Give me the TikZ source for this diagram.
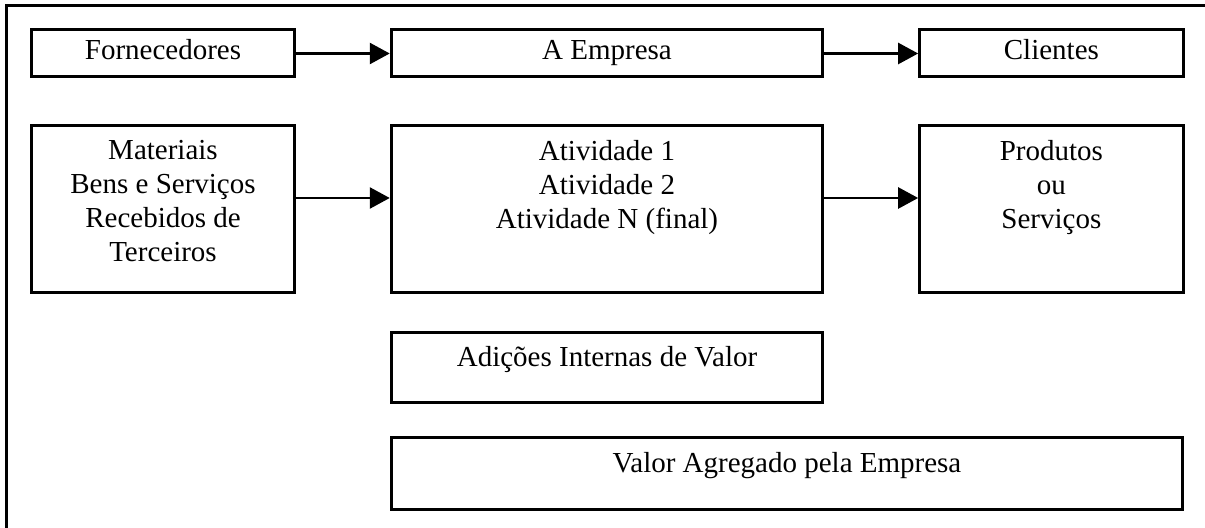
\documentclass[tikz,border=0pt]{standalone}
\usepackage{fontspec}
\setmainfont{Liberation Serif}
\usetikzlibrary{arrows.meta,positioning}

\begin{document}
\begin{tikzpicture}[x=0.5pt,y=-0.5pt,font=\fontsize{14.5}{17}\selectfont,
  blk/.style={draw,rectangle,line width=1.5pt,inner sep=0pt},
  lbl/.style={inner sep=0pt,align=center},
  arr/.style={line width=1.3pt,-{Triangle[length=10pt,width=10.5pt]}}]
\useasboundingbox (0,0) rectangle (1205,528);
% frame, cut at the right and at the bottom
\draw[line width=1.5pt] (1215,5.5) -- (6.5,5.5) -- (6.5,540);
% top row
  \foreach \nm/\xx/\bw/\txt in {forn/163/131.75/Fornecedores,emp/607/215.75/A Empresa,cli/1051.4/131.75/Clientes}
  {  \node [blk,minimum width=\bw pt,minimum height=23.5pt,text height=0.75em,text depth=0.1em] (\nm) at (\xx,53.5) {\txt};}
% second row
  \foreach \nm/\xx/\bw in {mat/163/131.75,ativ/607/215.75,prod/1051.4/131.75}
  {  \node [blk,minimum width=\bw pt,minimum height=83.35pt] (\nm) at (\xx,209.2) {};}
\node [lbl,below=8pt of mat.north] (matT) {Materiais\\Bens e Serviços\\Recebidos de\\Terceiros};
\node [lbl,below=8pt of ativ.north] (ativT) {Atividade 1\\Atividade 2\\Atividade N (final)};
\node [lbl,below=8pt of prod.north] (prodT) {Produtos\\ou\\Serviços};
% value boxes
\node [blk,minimum width=215.75pt,minimum height=35pt] (adic) at (607,367.2) {};
\node [lbl,below=7.5pt of adic.north] (adicT) {Adições Internas de Valor};
\node [blk,minimum width=395.5pt,minimum height=36.15pt] (vag) at (787,473.7) {};
\node [lbl,below=8pt of vag.north] (vagT) {Valor Agregado pela Empresa};
% arrows
\coordinate (lvl) at (0,198);
\draw[arr] (forn) -- (emp);
\draw[arr] (emp) -- (cli);
\draw[arr] (mat.east |- lvl) -- (ativ.west |- lvl);
\draw[arr] (ativ.east |- lvl) -- (prod.west |- lvl);
\end{tikzpicture}
\end{document}
